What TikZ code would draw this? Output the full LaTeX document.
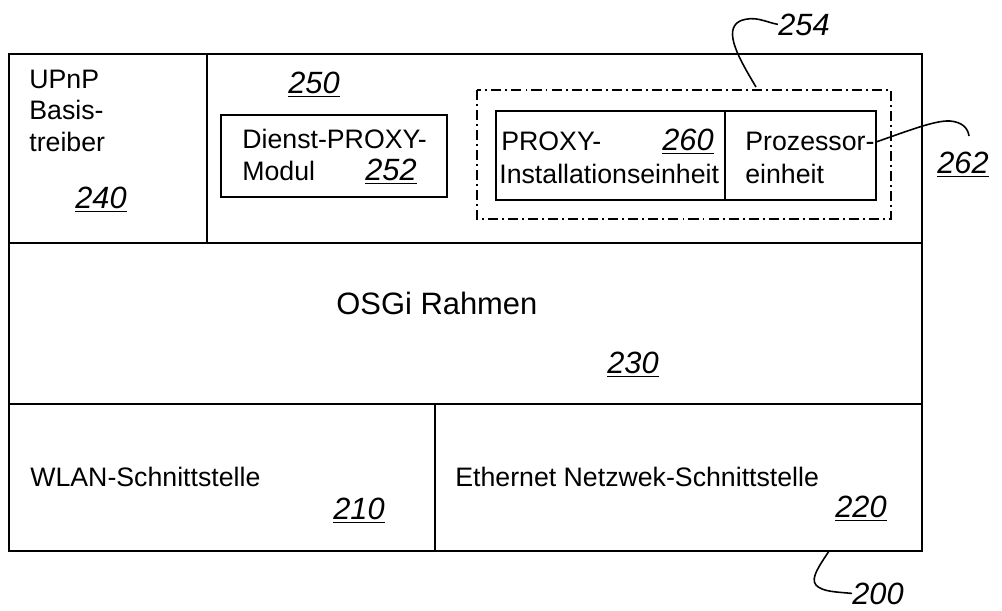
\documentclass[tikz,border=0pt]{standalone}
\usepackage{fontspec}
\setmainfont{Liberation Sans}
\usetikzlibrary{positioning}

% underlined italic reference numeral
\newcommand{\refno}[1]{\setbox0\hbox{\itshape #1}\rlap{\rule[-2.4pt]{\wd0}{0.9pt}}\box0}

\begin{document}
\begin{tikzpicture}[x=0.02cm, y=-0.02cm,
        frame/.style={draw, line width=1.3pt},
        part/.style={draw, line width=0.8pt},
        unit/.style={draw, line width=1.1pt},
        group/.style={draw, line width=1.1pt, dash pattern=on 5.7pt off 2.3pt on 1.1pt off 2.3pt},
        lbl/.style={anchor=base west, inner sep=0pt, font=\fontsize{15.2}{18}\selectfont},
        big/.style={anchor=base west, inner sep=0pt, font=\fontsize{17.6}{20}\selectfont},
        num/.style={anchor=base west, inner sep=0pt, font=\fontsize{17.5}{20}\selectfont\itshape},
        leader/.style={draw, line width=0.9pt}
    ]
        \useasboundingbox (0,0) rectangle (1002,610);

        % Frame and layers
        \draw[frame] (9,54) rectangle (922,551);
        \draw[frame] (9,243) -- (922,243);
        \draw[frame] (9,404) -- (922,404);
        \draw[part] (207,54) -- (207,243);
        \draw[part] (435,404) -- (435,551);

        % Boxes
        \draw[unit] (221,115) rectangle (447,197);
        \draw[group] (477,90) rectangle (891,219);
        \draw[unit] (496,111) rectangle (725,200);
        \draw[unit] (725,111) rectangle (876,200);

        % Texts
        \node[lbl] (upnp) at (29,88) {UPnP};
        \node[lbl] (basis) at (29,119) {Basis-};
        \node[lbl] (treiber) at (29,151) {treiber};
        \node[num] (n240) at (75,208) {\refno{240}};

        \node[num] (n250) at (288,93) {\refno{250}};
        \node[lbl] (dienst) at (242,148) {Dienst-PROXY-};
        \node[lbl] (modul) at (242,180) {Modul};
        \node[num] (n252) at (365,180) {\refno{252}};

        \node[lbl] (proxy) at (501,150) {PROXY-};
        \node[num] (n260) at (662,150) {\refno{260}};
        \node[lbl] (install) at (499,183) {Installationseinheit};
        \node[lbl] (prozessor) at (745,150) {Prozessor-};
        \node[lbl] (einheit) at (745,183) {einheit};

        \node[big] (osgi) at (336,314) {OSGi Rahmen};
        \node[num] (n230) at (607,373) {\refno{230}};

        \node[lbl] (wlan) at (30,486) {WLAN-Schnittstelle};
        \node[num] (n210) at (333,519) {\refno{210}};
        \node[lbl] (ether) at (455,486) {Ethernet Netzwek-Schnittstelle};
        \node[num] (n220) at (835,517) {\refno{220}};

        \node[num] (n254) at (778,35) {254};
        \node[num] (n262) at (937,173) {\refno{262}};
        \node[num] (n200) at (852,604) {200};

        % Leaders
        \coordinate (s254) at (756,87);
        \coordinate (s262) at (876,142);
        \coordinate (e262) at (969,136);
        \coordinate (s200) at (829,551);
        \draw[leader] (s254) .. controls (740,60) and (722,30) .. (740,21)
            .. controls (755,15) and (765,22) .. (n254.west);
        \draw[leader] (s262) .. controls (905,132) and (935,120) .. (950,121)
            .. controls (962,122) and (968,128) .. (e262);
        \draw[leader] (s200) .. controls (820,565) and (810,578) .. (816,585)
            .. controls (822,592) and (838,592) .. (n200.west);
    \end{tikzpicture}
\end{document}
